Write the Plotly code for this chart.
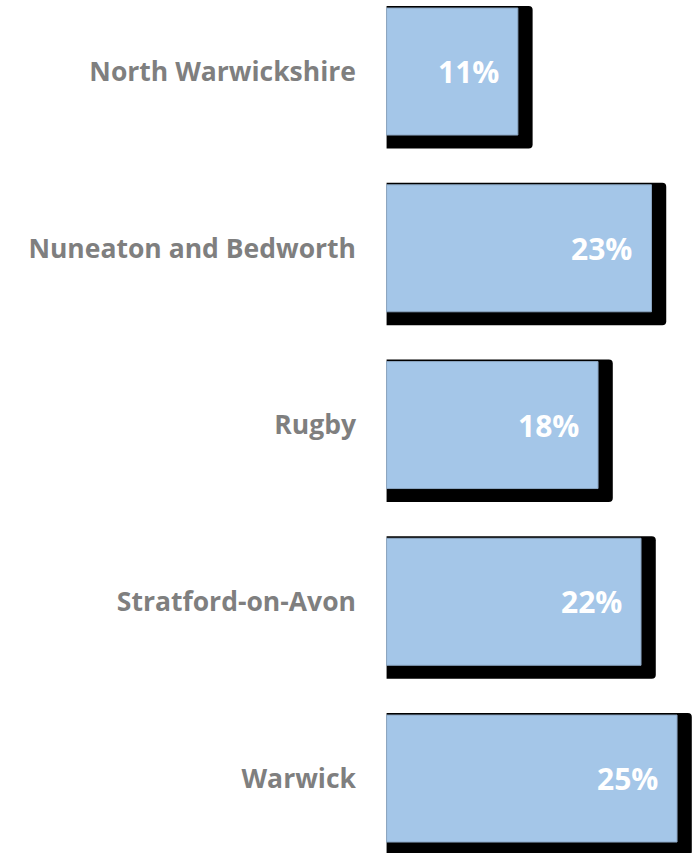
import plotly.graph_objects as go

categories = ["North Warwickshire", "Nuneaton and Bedworth", "Rugby", "Stratford-on-Avon", "Warwick"]
values = [11.3, 22.8, 18.2, 21.9, 25.0]
value_labels = ["11%", "23%", "18%", "22%", "25%"]

BAR_COLOR = "#A4C6E8"
SHADOW_DX = 1.27  # shadow extends right, in axis units

fig = go.Figure()

# drop shadow
fig.add_trace(go.Bar(
    y=categories, x=[v + SHADOW_DX for v in values], orientation="h",
    marker=dict(color="black", line=dict(width=0), cornerradius=4),
    offset=-0.371, width=0.806, hoverinfo="skip", showlegend=False,
))
# main bars
fig.add_trace(go.Bar(
    y=categories, x=values, orientation="h",
    marker=dict(color=BAR_COLOR, line=dict(width=1, color="#8CA6C2")),
    offset=-0.359, width=0.7185, showlegend=False,
))

for c, v, t in zip(categories, values, value_labels):
    fig.add_annotation(x=v, y=c, text=t, xanchor="right", yanchor="middle",
                       xshift=-17, showarrow=False,
                       font=dict(family="Open Sans", size=30, color="white", weight="bold"))

fig.update_layout(
    width=699, height=853,
    margin=dict(l=386, r=0, t=0, b=0, autoexpand=False),
    plot_bgcolor="white", paper_bgcolor="white",
    barmode="overlay",
    xaxis=dict(range=[-0.05, 313 / 11.64], visible=False, fixedrange=True),
    yaxis=dict(
        categoryorder="array", categoryarray=categories,
        range=[4.4215, -0.4045], showgrid=False, zeroline=False, showline=False,
        ticks="", ticklabelstandoff=29, automargin=False, fixedrange=True,
        tickfont=dict(family="Open Sans", size=26.5, color="#7F7F7F", weight="bold"),
    ),
)

fig.write_html("out.html", config={"displayModeBar": False},
               post_script="document.body.style.margin='0';")
